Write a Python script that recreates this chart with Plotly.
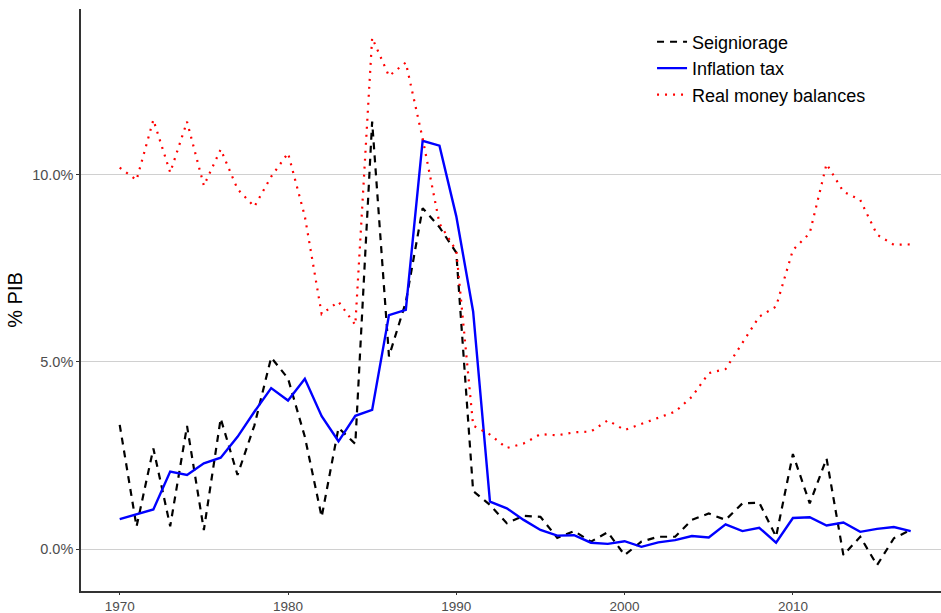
import plotly.graph_objects as go

years = list(range(1970, 2018))

seigniorage = [3.32, 0.60, 2.69, 0.61, 3.29, 0.51, 3.49, 1.98, 3.30, 5.12,
               4.56, 3.00, 0.86, 3.24, 2.81, 11.42, 5.15, 6.60, 9.11, 8.60,
               7.92, 1.55, 1.18, 0.69, 0.89, 0.86, 0.30, 0.48, 0.20, 0.45,
               -0.16, 0.20, 0.33, 0.33, 0.78, 0.95, 0.78, 1.22, 1.24, 0.33,
               2.54, 1.22, 2.42, -0.16, 0.33, -0.43, 0.29, 0.51]

inflation_tax = [0.80, 0.93, 1.06, 2.07, 1.98, 2.29, 2.44, 3.00, 3.67, 4.30,
                 3.97, 4.55, 3.55, 2.88, 3.56, 3.72, 6.25, 6.39, 10.91, 10.78,
                 8.89, 6.35, 1.27, 1.09, 0.78, 0.51, 0.36, 0.37, 0.17, 0.14,
                 0.21, 0.06, 0.18, 0.24, 0.35, 0.31, 0.66, 0.48, 0.57, 0.17,
                 0.83, 0.85, 0.63, 0.71, 0.46, 0.54, 0.59, 0.48]

real_money = [10.19, 9.86, 11.47, 10.06, 11.42, 9.71, 10.68, 9.62, 9.15, 9.95,
              10.58, 8.89, 6.28, 6.61, 5.99, 13.66, 12.64, 13.00, 10.97, 8.70,
              7.97, 3.30, 3.06, 2.70, 2.82, 3.07, 3.04, 3.12, 3.14, 3.44,
              3.18, 3.34, 3.51, 3.67, 4.07, 4.70, 4.81, 5.52, 6.21, 6.48,
              7.99, 8.44, 10.29, 9.55, 9.33, 8.40, 8.13, 8.14]

y_tickvals = [0, 5, 10]
y_ticktext = ["0.0%", "5.0%", "10.0%"]
x_tickvals = [1970, 1980, 1990, 2000, 2010]

fig = go.Figure()
fig.add_trace(go.Scatter(x=years, y=seigniorage, mode="lines", name="Seigniorage",
                         line=dict(color="black", width=2.2, dash="7px,6px")))
fig.add_trace(go.Scatter(x=years, y=inflation_tax, mode="lines", name="Inflation tax",
                         line=dict(color="#0000ff", width=2.4)))
fig.add_trace(go.Scatter(x=years, y=real_money, mode="lines", name="Real money balances",
                         line=dict(color="#ff0000", width=2.2, dash="2px,6px")))

fig.update_layout(
    width=941, height=613,
    margin=dict(l=81, r=0, t=9, b=22),
    paper_bgcolor="white", plot_bgcolor="white",
    font=dict(family="Liberation Sans, Arial, sans-serif", color="#4d4d4d"),
    showlegend=True,
    legend=dict(x=0.664, y=0.975, xanchor="left", yanchor="top",
                bgcolor="rgba(0,0,0,0)", font=dict(size=18, color="black"),
                itemwidth=30, tracegroupgap=0),
    xaxis=dict(range=[1967.7, 2018.8], tickvals=x_tickvals, showgrid=False,
               zeroline=False, showline=True, linecolor="#333333", linewidth=1.5,
               ticks="outside", ticklen=2, tickcolor="#333333", automargin=False,
               tickfont=dict(size=13.5, color="#4d4d4d")),
    yaxis=dict(range=[-1.12, 14.43], tickvals=y_tickvals, ticktext=y_ticktext,
               showgrid=True, gridcolor="#d0d0d0", gridwidth=1.2,
               zeroline=False, showline=True, linecolor="#333333", linewidth=1.5,
               ticks="outside", ticklen=3, tickcolor="#333333", automargin=False,
               tickfont=dict(size=14.5, color="#4d4d4d"),
               title=dict(text="% PIB", font=dict(size=20, color="black"), standoff=4)),
)

fig.write_html("out.html", config={"displayModeBar": False})

with open("out.html", "r", encoding="utf-8") as f:
    html = f.read()
html = html.replace("<head>", "<head><style>html,body{margin:0;padding:0;}</style>", 1)
with open("out.html", "w", encoding="utf-8") as f:
    f.write(html)
